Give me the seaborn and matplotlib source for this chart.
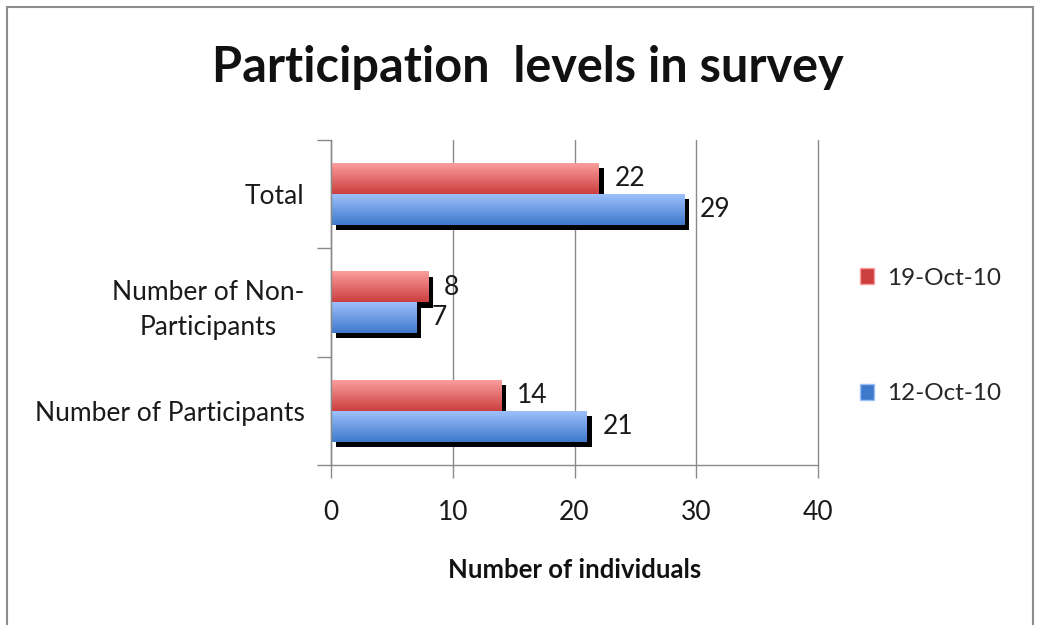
import numpy as np
import pandas as pd
import matplotlib
matplotlib.use("Agg")
import matplotlib.pyplot as plt
import matplotlib.transforms as mtransforms
from matplotlib.patches import Rectangle
from matplotlib.lines import Line2D
from matplotlib.colors import LinearSegmentedColormap
import seaborn as sns

# Survey data
categories = ["Total", "Number of Non-\nParticipants", "Number of Participants"]
series_names = ["19-Oct-10", "12-Oct-10"]
values_19oct = [22, 8, 14]
values_12oct = [29, 7, 21]
x_ticks = [0, 10, 20, 30, 40]

df = pd.DataFrame({
    "category": categories * 2,
    "date": [series_names[0]] * 3 + [series_names[1]] * 3,
    "count": values_19oct + values_12oct,
})

sns.set_theme(style="white")
plt.rcParams["font.family"] = ["Lato", "DejaVu Sans"]

FS = 19
fig = plt.figure(figsize=(10.39, 6.25), dpi=100)
ax = fig.add_axes([331 / 1039, 1 - 465 / 625, 487 / 1039, 325 / 625])

gradients = {
    series_names[0]: ("#fb9d9d", "#cc3f3f"),
    series_names[1]: ("#9dc0fb", "#3f79cc"),
}

sns.barplot(data=df, y="category", x="count", hue="date", order=categories,
            hue_order=series_names, orient="h", width=0.57, ax=ax,
            legend=False, palette=[gradients[s][1] for s in series_names])

ax.set_xlim(0, 40)
ax.set_ylim(2.5, -0.5)

# Shadow offset: right and down
shadow_tf = ax.transData + mtransforms.ScaledTranslation(5 / 100, -5 / 100, fig.dpi_scale_trans)

grad = np.linspace(0, 1, 64).reshape(-1, 1)
for container, name in zip(ax.containers, series_names):
    cmap = LinearSegmentedColormap.from_list(name, list(gradients[name]))
    for bar in container:
        x0, y0 = bar.get_x(), bar.get_y()
        w, h = bar.get_width(), bar.get_height()
        shadow = Rectangle((x0, y0), w, h, transform=shadow_tf, facecolor="black",
                           edgecolor="none", zorder=1.5)
        ax.add_patch(shadow)
        bar.set_facecolor("none")
        bar.set_edgecolor("none")
        ax.imshow(grad, cmap=cmap, aspect="auto", origin="upper",
                  extent=(x0, x0 + w, y0 + h, y0), zorder=2.5, interpolation="bilinear")
        ax.text(x0 + w + 1.3, y0 + h / 2, f"{w:g}", va="center", ha="left",
                fontsize=FS, color="#1a1a1a", zorder=3)

ax.set_xlim(0, 40)
ax.set_ylim(2.5, -0.5)

# Axes styling
grid_col = "#8a8a8a"
ax.set_xticks(x_ticks)
ax.set_xticklabels([str(t) for t in x_ticks], fontsize=FS, color="#1a1a1a")
ax.xaxis.grid(True, color=grid_col, linewidth=1)
for gl in ax.get_xgridlines():
    gl.set_clip_on(False)
ax.set_axisbelow(True)
ax.tick_params(axis="x", length=9, color=grid_col, width=1, direction="out",
               bottom=True, pad=16)
ax.set_yticks(range(len(categories)))
ax.set_yticklabels(categories, fontsize=FS, color="#1a1a1a", multialignment="center",
                   linespacing=1.5)
ax.tick_params(axis="y", which="major", length=0, pad=19)
ax.set_yticks([-0.5, 0.5, 1.5, 2.5], minor=True)
ax.tick_params(axis="y", which="minor", length=10, color=grid_col, width=1,
               direction="out", left=True)
for side in ["top", "right"]:
    ax.spines[side].set_visible(False)
for side in ["left", "bottom"]:
    ax.spines[side].set_color(grid_col)
    ax.spines[side].set_linewidth(1)

ax.set_ylabel("")
ax.set_xlabel("Number of individuals", fontsize=18.5, fontweight="bold",
              color="#111111", labelpad=24)

fig.text(528 / 1039, 1 - 68 / 625, "Participation  levels in survey",
         fontsize=35, fontweight="bold", ha="center", va="center", color="#111111")

# Legend
handles = [Rectangle((0, 0), 1, 1, facecolor=gradients[s][1], edgecolor=gradients[s][0])
           for s in series_names]
fig.legend(handles, series_names, loc="center left",
           bbox_to_anchor=(838 / 1039, 1 - 336 / 625), frameon=False,
           fontsize=17.5, labelspacing=3.9, handlelength=0.6, handleheight=0.6,
           handletextpad=0.5)

# Chart border
border_col = "#8c8c8c"
for xs, ys in [([7, 1033], [7, 7]), ([7, 7], [7, 630]), ([1033, 1033], [7, 630])]:
    fig.add_artist(Line2D([x / 1039 for x in xs], [1 - y / 625 for y in ys],
                          color=border_col, linewidth=1.5, transform=fig.transFigure))

fig.savefig("out.png", dpi=100, facecolor="white")
